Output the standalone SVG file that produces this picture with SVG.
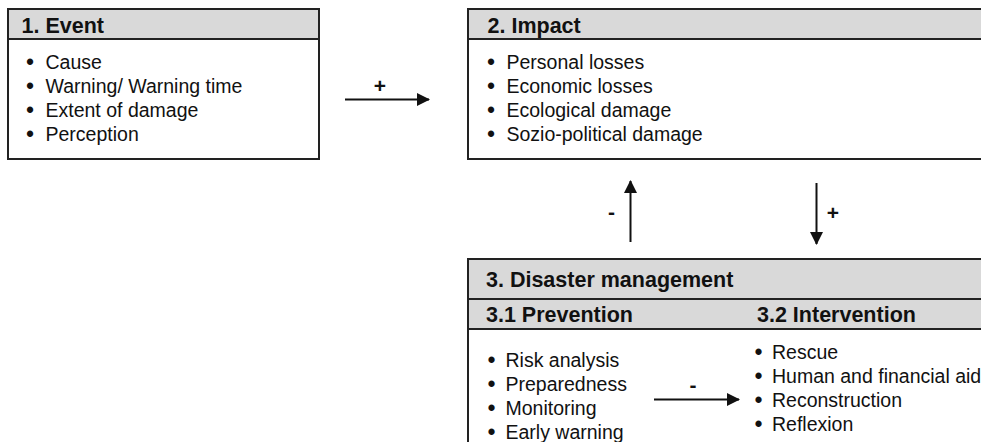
<svg xmlns="http://www.w3.org/2000/svg" width="981" height="442" viewBox="0 0 981 442">
<defs>
<style>
.box{fill:#fff;stroke:#222;stroke-width:2}
.hdr{fill:#d9d9d9;stroke:#222;stroke-width:2}
.title{font-family:"Liberation Sans",Arial,sans-serif;font-weight:bold;font-size:21.5px;fill:#111}
.body{font-family:"Liberation Sans",Arial,sans-serif;font-size:19.5px;fill:#111}
.lbl{font-family:"Liberation Sans",Arial,sans-serif;font-weight:bold;font-size:21px;fill:#111}
.conn{stroke:#111;stroke-width:2;fill:none}
.bul{text-anchor:middle;font-size:23px}
</style>
<marker id="ah" viewBox="0 0 13 13" refX="12" refY="6.5" markerWidth="13" markerHeight="13" markerUnits="userSpaceOnUse" orient="auto">
<path d="M0,0 L13,6.5 L0,13 Z" fill="#111"/>
</marker>
</defs>

<g id="event">
<rect class="box" x="8" y="9" width="311" height="150"/>
<rect class="hdr" x="8" y="9" width="311" height="30"/>
<text class="title" x="21.5" y="33">1. Event</text>
<g class="body">
<text class="bul" x="30" y="69.5">•</text><text x="45.5" y="68.5">Cause</text>
<text class="bul" x="30" y="93.5">•</text><text x="45.5" y="92.5">Warning/ Warning time</text>
<text class="bul" x="30" y="117.5">•</text><text x="45.5" y="116.5">Extent of damage</text>
<text class="bul" x="30" y="141.5">•</text><text x="45.5" y="140.5">Perception</text>
</g>
</g>

<g id="impact">
<rect class="box" x="468" y="9" width="530" height="150"/>
<rect class="hdr" x="468" y="9" width="530" height="30"/>
<text class="title" x="487.5" y="33">2. Impact</text>
<g class="body">
<text class="bul" x="491" y="69.5">•</text><text x="506.5" y="68.5">Personal losses</text>
<text class="bul" x="491" y="93.5">•</text><text x="506.5" y="92.5">Economic losses</text>
<text class="bul" x="491" y="117.5">•</text><text x="506.5" y="116.5">Ecological damage</text>
<text class="bul" x="491" y="141.5">•</text><text x="506.5" y="140.5">Sozio-political damage</text>
</g>
</g>

<g id="disaster-management">
<rect class="box" x="468" y="259" width="530" height="200"/>
<rect class="hdr" x="468" y="259" width="530" height="40"/>
<rect class="hdr" x="468" y="299" width="530" height="30"/>
<text class="title" x="486" y="287">3. Disaster management</text>
<text class="title" x="486" y="322">3.1 Prevention</text>
<text class="title" x="757" y="322">3.2 Intervention</text>
<g id="prevention" class="body">
<text class="bul" x="491.5" y="368">•</text><text x="505.5" y="367">Risk analysis</text>
<text class="bul" x="491.5" y="392">•</text><text x="505.5" y="391">Preparedness</text>
<text class="bul" x="491.5" y="416">•</text><text x="505.5" y="415">Monitoring</text>
<text class="bul" x="491.5" y="440">•</text><text x="505.5" y="439">Early warning</text>
</g>
<g id="intervention" class="body">
<text class="bul" x="758.5" y="360">•</text><text x="772" y="359">Rescue</text>
<text class="bul" x="758.5" y="384">•</text><text x="772" y="383">Human and financial aid</text>
<text class="bul" x="758.5" y="408">•</text><text x="772" y="407">Reconstruction</text>
<text class="bul" x="758.5" y="432">•</text><text x="772" y="431">Reflexion</text>
</g>
</g>

<g id="connectors">
<line class="conn" x1="345" y1="99.5" x2="429" y2="99.5" marker-end="url(#ah)"/>
<text class="lbl" x="380" y="92.5" text-anchor="middle">+</text>
<line class="conn" x1="630.5" y1="242" x2="630.5" y2="181" marker-end="url(#ah)"/>
<text class="lbl" x="611.5" y="218.5" text-anchor="middle">-</text>
<line class="conn" x1="816.5" y1="183" x2="816.5" y2="244" marker-end="url(#ah)"/>
<text class="lbl" x="833" y="220" text-anchor="middle">+</text>
<line class="conn" x1="654" y1="399.5" x2="739" y2="399.5" marker-end="url(#ah)"/>
<text class="lbl" x="693" y="392" text-anchor="middle">-</text>
</g>
</svg>
